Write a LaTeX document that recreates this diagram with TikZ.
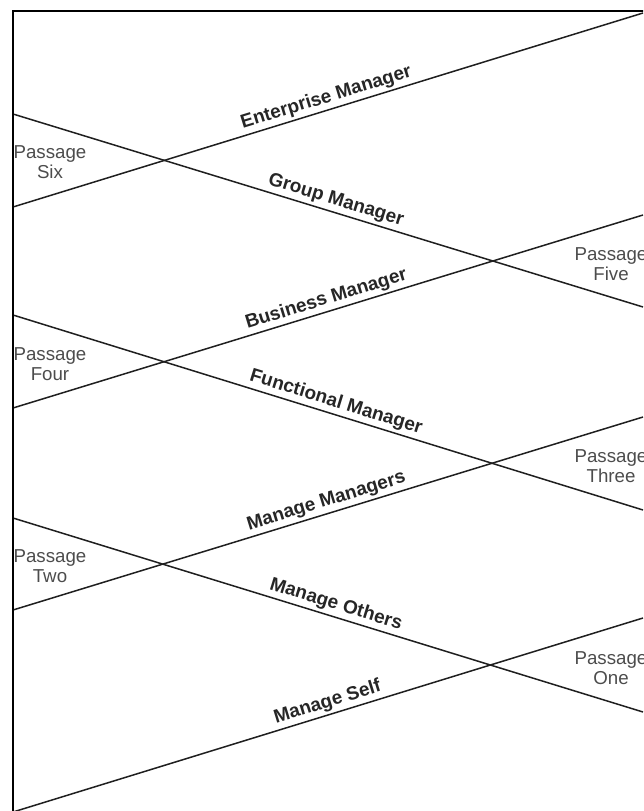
\documentclass[tikz,border=0pt]{standalone}
\usepackage{fontspec}
\setmainfont{Liberation Sans}
\begin{document}
\begin{tikzpicture}[x=1pt,y=-1pt,
  edge/.style={draw=black!88, line width=1.5pt},
  frame/.style={draw=black, line width=2.2pt},
  role/.style={sloped, above, font=\bfseries\fontsize{19}{20}\selectfont, text=black!85, inner sep=2.5pt},
  passage/.style={align=center, font=\fontsize{18.7}{20.5}\selectfont, text=black!70, inner sep=0pt}]
\useasboundingbox (0,0) rectangle (643,811);
\clip (0,0) rectangle (643,811);
% rising lines
\coordinate (a1) at (13,207); \coordinate (a2) at (643,13);
\coordinate (c1) at (13,408); \coordinate (c2) at (643,215);
\coordinate (e1) at (13,610); \coordinate (e2) at (643,417);
\coordinate (g1) at (13,812); \coordinate (g2) at (643,618);
% falling lines
\coordinate (b1) at (13,114); \coordinate (b2) at (643,307);
\coordinate (d1) at (13,315); \coordinate (d2) at (643,510);
\coordinate (f1) at (13,518); \coordinate (f2) at (643,712);

\draw[edge] (a1) -- node[role,pos=0.503]{Enterprise Manager} (a2);
\draw[edge] (b1) -- node[role,pos=0.507]{Group Manager} (b2);
\draw[edge] (c1) -- node[role,pos=0.503]{Business Manager} (c2);
\draw[edge] (d1) -- node[role,pos=0.507]{Functional Manager} (d2);
\draw[edge] (e1) -- node[role,pos=0.503]{Manage Managers} (e2);
\draw[edge] (f1) -- node[role,pos=0.507]{Manage Others} (f2);
\draw[edge] (g1) -- node[role,pos=0.505]{Manage Self} (g2);

\node[passage] (p6) at (50,162) {Passage\\Six};
\node[passage] (p4) at (50,364) {Passage\\Four};
\node[passage] (p2) at (50,566) {Passage\\Two};
\node[passage] (p5) at (611,264) {Passage\\Five};
\node[passage] (p3) at (611,466) {Passage\\Three};
\node[passage] (p1) at (611,668) {Passage\\One};

\coordinate (ftr) at (645,11);
\coordinate (ftl) at (13,11);
\coordinate (fbl) at (13,813);
\draw[frame] (ftr) -- (ftl) -- (fbl);
\end{tikzpicture}
\end{document}
